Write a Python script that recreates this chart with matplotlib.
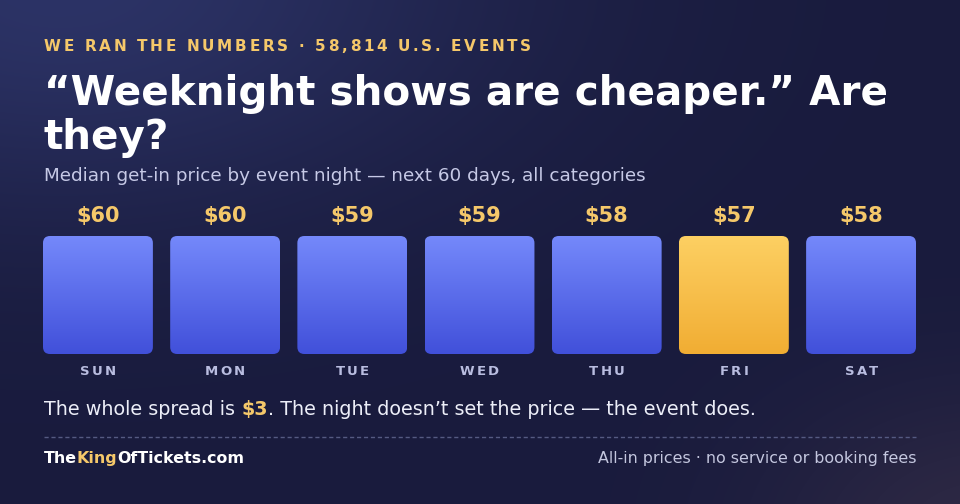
import numpy as np
import matplotlib
matplotlib.use("Agg")
import matplotlib.pyplot as plt
from matplotlib.patches import FancyBboxPatch
from matplotlib.colors import LinearSegmentedColormap

plt.rcParams['font.family'] = ['DejaVu Sans']
plt.rcParams['text.parse_math'] = False

# data
days = ["SUN", "MON", "TUE", "WED", "THU", "FRI", "SAT"]
prices = [60, 60, 59, 59, 58, 57, 58]
event_count = "58,814"

kicker = f"WE RAN THE NUMBERS · {event_count} U.S. EVENTS"
title_lines = ["“Weeknight shows are cheaper.” Are", "they?"]
subtitle = "Median get-in price by event night — next 60 days, all categories"
footer_right = "All-in prices · no service or booking fees"

W, H = 960, 504
GOLD = "#f5c86a"
BLUE_TOP, BLUE_BOT = "#7589fb", "#4150da"
GOLD_TOP, GOLD_BOT = "#fdd063", "#f1ad33"

fig = plt.figure(figsize=(W / 100, H / 100), dpi=100)

# background with soft glows
bg = fig.add_axes([0, 0, 1, 1])
bg.set_axis_off()
yy, xx = np.mgrid[0:H, 0:W]
base = np.array([0x19, 0x1b, 0x3d]) / 255.0
img = np.ones((H, W, 3)) * base
g1 = np.exp(-(((xx - 60) / 430.0) ** 2 + ((yy + 20) / 230.0) ** 2))
img += g1[..., None] * (np.array([0x2c, 0x33, 0x66]) / 255.0 - base)
g2 = np.exp(-(((xx - 990) / 220.0) ** 2 + ((yy - 540) / 150.0) ** 2))
img += g2[..., None] * (np.array([0x2e, 0x29, 0x44]) / 255.0 - base)
bg.imshow(np.clip(img, 0, 1), extent=[0, W, H, 0], aspect='auto')
bg.set_xlim(0, W)
bg.set_ylim(H, 0)

renderer = fig.canvas.get_renderer()


def px(x, y):
    return x / W, 1 - y / H


def text_width(s, **kw):
    t = fig.text(0, 0, s, **kw)
    w = t.get_window_extent(renderer).width
    t.remove()
    return w


def tracked(x, y, s, spacing, ha="left", **kw):
    bar_w = text_width("|", **kw)
    total = text_width(s, **kw) + spacing * (len(s) - 1)
    if ha == "center":
        x = x - total / 2
    for i, ch in enumerate(s):
        off = text_width(s[:i] + "|", **kw) - bar_w if i else 0
        fig.text(*px(x + off + spacing * i, y), ch, va="baseline", ha="left", **kw)


def runs(x, y, parts, ha="left", **kw):
    # parts: list of (text, color, weight)
    widths = [text_width(p, fontweight=w, **kw) for p, c, w in parts]
    if ha == "right":
        x = x - sum(widths)
    for (p, c, w), wd in zip(parts, widths):
        fig.text(*px(x, y), p, color=c, fontweight=w, va="baseline", ha="left", **kw)
        x += wd


# header
tracked(44, 51, kicker, 2.7, fontsize=11, fontweight="bold", color=GOLD)
fig.text(*px(44, 105), title_lines[0], fontsize=29.2, fontweight="bold",
         color="white", va="baseline")
fig.text(*px(44, 149), title_lines[1], fontsize=29.2, fontweight="bold",
         color="white", va="baseline")
fig.text(*px(44, 181), subtitle, fontsize=13.25, color="#c6c9e6", va="baseline")

# bars
ax = fig.add_axes([43 / W, 1 - 354 / H, (916 - 43) / W, (354 - 236) / H])
ax.set_axis_off()
bar_w = 0.864
card_h = 1.0
x_scale = (916 - 43) / (len(days) - 1 + bar_w)
y_scale = 354 - 236
r = 7 / x_scale
lowest = int(np.argmin(prices))

for i, (d, p) in enumerate(zip(days, prices)):
    top, bot = (GOLD_TOP, GOLD_BOT) if i == lowest else (BLUE_TOP, BLUE_BOT)
    cmap = LinearSegmentedColormap.from_list("g", [top, bot])
    patch = FancyBboxPatch((i - bar_w / 2, 0), bar_w, card_h,
                           boxstyle=f"round,pad=0,rounding_size={r}",
                           mutation_aspect=x_scale / y_scale,
                           facecolor="none", edgecolor="none")
    ax.add_patch(patch)
    grad = np.linspace(0, 1, 256).reshape(-1, 1)
    im = ax.imshow(grad, cmap=cmap, extent=[i - bar_w / 2, i + bar_w / 2, 0, card_h],
                   origin="upper", aspect='auto', interpolation='bicubic')
    im.set_clip_path(patch)

    cx = 43 + (i + bar_w / 2) * x_scale
    fig.text(*px(cx, 222), f"${p}", fontsize=15, fontweight="bold", color=GOLD,
             ha="center", va="baseline")
    tracked(cx, 375, d, 2.2, ha="center", fontsize=9.5, fontweight="bold",
            color="#b9bde0")
ax.set_xlim(-bar_w / 2, len(days) - 1 + bar_w / 2)
ax.set_ylim(0, card_h)

# takeaway line
spread = max(prices) - min(prices)
runs(44, 415, [("The whole spread is ", "#eceef8", "normal"),
               (f"${spread}", GOLD, "bold"),
               (". The night doesn’t set the price — the event does.", "#eceef8", "normal")],
     fontsize=13.8)

# divider
bg.plot([44, 916], [437, 437], color="#555a82", lw=1, ls=(0, (3, 2)))

# footer
runs(44, 463, [("The", "white", "bold"), ("King", GOLD, "bold"),
               ("OfTickets.com", "white", "bold")], fontsize=11.4)
fig.text(*px(916, 463), footer_right, fontsize=11.4, color="#c4c7df",
         ha="right", va="baseline")

fig.savefig("out.png", dpi=100)
